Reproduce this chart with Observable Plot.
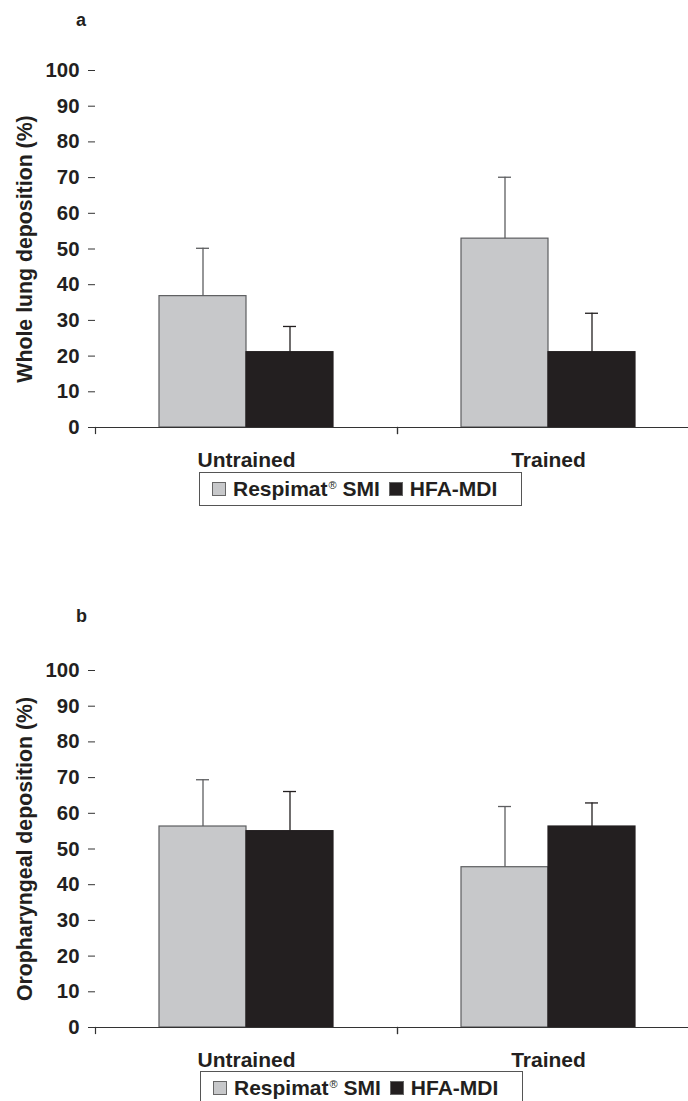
<!DOCTYPE html>
<html>
<head>
<meta charset="utf-8">
<script src="https://cdn.jsdelivr.net/npm/d3@7"></script>
<script src="https://cdn.jsdelivr.net/npm/@observablehq/plot@0.6"></script>
<style>
  html, body { margin: 0; padding: 0; background: #fff; overflow: hidden; width: 688px; height: 1101px; }
  body { font-family: "Liberation Sans", Arial, sans-serif; font-weight: bold; color: #231f20; }
  #root { position: relative; width: 688px; height: 1101px; overflow: hidden; }
  .panel { position: absolute; left: 0; max-width: none !important; }
  .tag { position: absolute; left: 76px; font-size: 18px; font-weight: bold; line-height: 1; }
  .legend { position: absolute; height: 34px; border: 1px solid #555; display: flex; align-items: center;
            font-size: 21px; font-weight: bold; padding-left: 12px; box-sizing: border-box; white-space: nowrap; }
  .sw { display: inline-block; width: 12px; height: 12px; border: 1px solid #666; margin-right: 7px; }
  .legend sup { font-size: 11px; font-weight: normal; vertical-align: 0; position: relative; top: -7px; margin-left: 1px; }
  .item { display: inline-flex; align-items: center; margin-right: 9px; }
</style>
</head>
<body>
<div id="root"></div>
<script>
// ---- data ----
const categories = ["Untrained", "Trained"];
const series = ["Respimat® SMI", "HFA-MDI"];
const fills = ["#c7c8ca", "#231f20"];
const borders = ["#5d5e60", "#231f20"];
const yTicks = [0, 10, 20, 30, 40, 50, 60, 70, 80, 90, 100];

// panel a: whole lung deposition (%)
const lungRespimat = [36.8, 52.9];
const lungRespimatUpper = [50.2, 70.1];
const lungHFA = [21.1, 21.1];
const lungHFAUpper = [28.3, 32.0];

// panel b: oropharyngeal deposition (%)
const oroRespimat = [56.3, 44.9];
const oroRespimatUpper = [69.4, 61.9];
const oroHFA = [55.0, 56.3];
const oroHFAUpper = [66.1, 62.9];

const innerH = 357;

function chart(meanR, upR, meanH, upH, label) {
  const rows = categories.flatMap((c, i) => [
    {category: c, series: series[0], mean: meanR[i], upper: upR[i]},
    {category: c, series: series[1], mean: meanH[i], upper: upH[i]}
  ]);
  const border = d => borders[series.indexOf(d.series)];
  return Plot.plot({
    width: 704,
    height: 70 + innerH + 40,
    marginTop: 70,
    marginLeft: 95,
    marginRight: 5,
    marginBottom: 40,
    style: {fontFamily: "Liberation Sans, Arial, sans-serif", fontWeight: "bold", color: "#231f20", background: "transparent", overflow: "visible", maxWidth: "none"},
    fx: {domain: categories, padding: 0},
    x: {domain: series, paddingInner: 0, paddingOuter: 0.7356, axis: null},
    y: {domain: [0, 100]},
    color: {domain: series, range: fills},
    marks: [
      Plot.barY(rows, {fx: "category", x: "series", y: "mean", fill: "series", stroke: border, strokeWidth: 1.2}),
      Plot.ruleX(rows, {fx: "category", x: "series", y1: "mean", y2: "upper", stroke: border, strokeWidth: 1.3}),
      Plot.tickY(rows, {fx: "category", x: "series", y: "upper", stroke: border, strokeWidth: 1.3, insetLeft: 37, insetRight: 37}),
      Plot.ruleY([0], {stroke: "#333", strokeWidth: 1.2}),
      Plot.frame({anchor: "left", insetTop: innerH, insetBottom: -6, stroke: "#333", strokeWidth: 1.2}),
      Plot.frame({anchor: "right", insetTop: innerH, insetBottom: -6, stroke: "#333", strokeWidth: 1.2}),
      Plot.axisY({ticks: yTicks, tickSize: 7, tickPadding: 9, fontSize: 20.4, fontWeight: "bold", stroke: "#333",
                  line: true, label: null}),
      Plot.axisY({ticks: [], tickSize: 0, fontSize: 21.3, fontWeight: "bold",
                  label, labelAnchor: "center", labelOffset: 79, labelArrow: "none"}),
      Plot.axisFx({anchor: "bottom", tickSize: 0, tickPadding: 25, fontSize: 21, fontWeight: "bold", label: null})
    ]
  });
}

function legend(top, left, width) {
  const div = document.createElement("div");
  div.className = "legend";
  div.style.top = top + "px";
  div.style.left = left + "px";
  div.style.width = width + "px";
  series.forEach((s, i) => {
    const item = document.createElement("span");
    item.className = "item";
    const sw = document.createElement("span");
    sw.className = "sw";
    sw.style.background = fills[i];
    item.appendChild(sw);
    const t = document.createElement("span");
    const parts = s.split("®");
    t.appendChild(document.createTextNode(parts[0]));
    if (parts.length > 1) {
      const sup = document.createElement("sup");
      sup.textContent = "®";
      t.appendChild(sup);
      t.appendChild(document.createTextNode(parts[1]));
    }
    item.appendChild(t);
    div.appendChild(item);
  });
  return div;
}

const root = document.getElementById("root");

function tag(txt, top) {
  const d = document.createElement("div");
  d.className = "tag";
  d.textContent = txt;
  d.style.top = top + "px";
  root.appendChild(d);
}

tag("a", 11);
const pa = chart(lungRespimat, lungRespimatUpper, lungHFA, lungHFAUpper, "Whole lung deposition (%)");
pa.classList.add("panel");
pa.style.top = "0px";
root.appendChild(pa);
root.appendChild(legend(472, 199, 323));

tag("b", 607);
const pb = chart(oroRespimat, oroRespimatUpper, oroHFA, oroHFAUpper, "Oropharyngeal deposition (%)");
pb.classList.add("panel");
pb.style.top = "600px";
root.appendChild(pb);
root.appendChild(legend(1071, 200, 323));
</script>
</body>
</html>
